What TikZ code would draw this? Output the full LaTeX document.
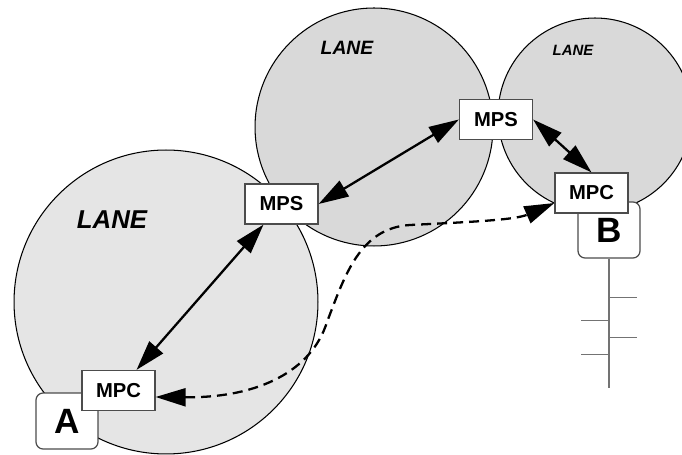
\documentclass[tikz,border=0pt]{standalone}
\usepackage{fontspec}
\setmainfont{Liberation Sans}
\usetikzlibrary{arrows.meta, positioning}

\begin{document}
\begin{tikzpicture}[
    x=0.02cm, y=-0.02cm,
    lane/.style={draw, circle, inner sep=0pt, line width=0.6pt},
    box/.style={draw=black!70, rectangle, fill=white, line width=0.7pt, minimum height=0.8cm, minimum width=1.46cm, font=\fontsize{11.5}{13}\selectfont\bfseries},
    host/.style={draw=black!70, rectangle, fill=white, line width=0.7pt, rounded corners=4pt, minimum height=1.12cm, minimum width=1.24cm, font=\fontsize{20}{24}\selectfont\bfseries},
    arrow/.style={<->, >={Triangle[length=0.6cm, width=0.36cm]}, line width=1.3pt},
    bus/.style={draw=black!55, line width=1pt},
    label/.style={font=\bfseries\itshape} %lane names
]
\clip (0,0) rectangle (682,455);

% the three LANEs
\node[lane, fill=gray!20, minimum size=6.08cm] (laneA) at (166,302) {};
\node[lane, fill=gray!30, minimum size=4.76cm] (laneM) at (374,127) {};
\node[lane, fill=gray!30, minimum size=3.88cm] (laneB) at (595,115) {};

\node[label, font=\fontsize{14.7}{16}\selectfont\bfseries\itshape] (nameA) at (112,220) {LANE};
\node[label, font=\fontsize{11}{13}\selectfont\bfseries\itshape] (nameM) at (347,48) {LANE};
\node[label, font=\fontsize{8.5}{10}\selectfont\bfseries\itshape] (nameB) at (573,50) {LANE};

% hosts
\node[host] (hostA) at (67,421) {A};
\node[host] (hostB) at (609,230) {B};

\draw[bus] (hostB.south) -- ++(0,129);
\foreach \d/\w in {39/28, 62/-28, 79/28, 96/-28}
    \draw[bus] (hostB.south) ++(0,\d) -- ++(\w,0);

% servers and clients
\node[box] (mpsL) at (281.5,204) {MPS};
\node[box] (mpsR) at (496,119.5) {MPS};
\node[box] (mpcA) at (118.5,390.5) {MPC};
\node[box] (mpcB) at (591.5,193) {MPC};

\draw[arrow] (mpcA) -- (mpsL);
\draw[arrow] (mpsL.east) -- (mpsR.west);
\draw[arrow] (mpsR.east) -- (mpcB.north);

\coordinate (bendLow) at (327,322);
\coordinate (bendHigh) at (410,225);
\draw[arrow, dash pattern=on 0.2cm off 0.12cm]
    ([yshift=-0.13cm]mpcA.east) .. controls (260,398) and (312,370) .. (bendLow)
    .. controls (345,275) and (360,228) .. (bendHigh)
    .. controls (470,222) and (515,220) .. ([yshift=-0.2cm]mpcB.west);

\end{tikzpicture}
\end{document}
